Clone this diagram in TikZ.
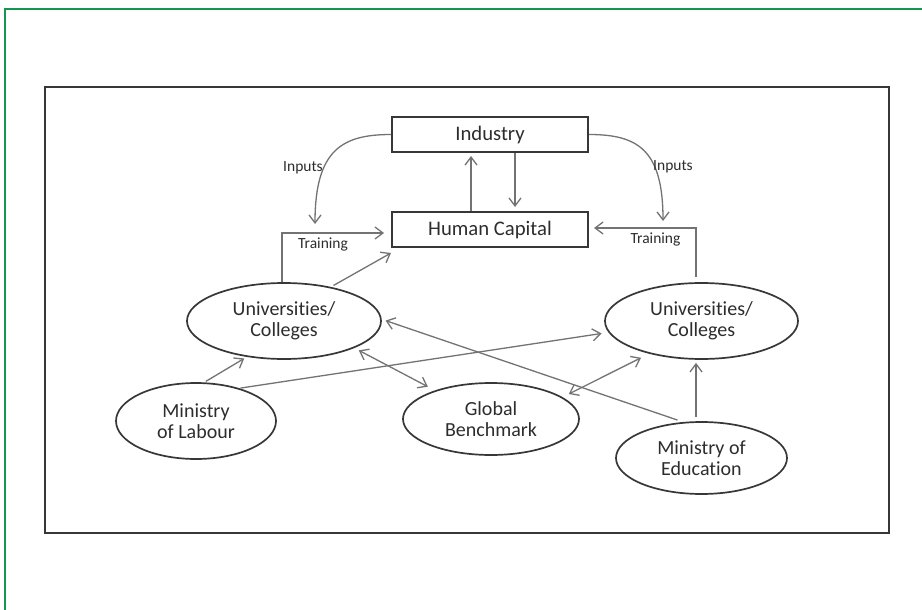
\documentclass[tikz,border=0pt]{standalone}
\usepackage{fontspec}
\setmainfont{Carlito}[Ligatures=NoCommon]
\usetikzlibrary{arrows.meta,shapes.geometric}
\definecolor{framegreen}{RGB}{20,150,80}
\definecolor{ink}{RGB}{55,55,55}
\definecolor{wire}{RGB}{115,115,115}
\definecolor{txt}{RGB}{45,45,45}
\begin{document}
\begin{tikzpicture}[x=1pt,y=-1pt,
  box/.style={draw=ink,line width=2pt,minimum width=196pt,minimum height=35pt,
    inner sep=0pt,text=txt,font=\fontsize{20.7}{21}\selectfont},
  oval/.style={draw=ink,ellipse,line width=1.7pt,inner sep=0pt,align=center,
    text=txt,font=\fontsize{20}{21}\selectfont},
  link/.style={draw=wire,line width=1.3pt,-{Straight Barb[length=8pt,width=12pt]}},
  both/.style={draw=wire,line width=1.3pt,
    {Straight Barb[length=8pt,width=12pt]}-{Straight Barb[length=8pt,width=12pt]}},
  lbl/.style={text=txt,font=\fontsize{15.5}{16}\selectfont,inner sep=0pt}]

\useasboundingbox (0,0) rectangle (922,610);
\fill[white] (0,0) rectangle (922,610);

% page frame and panel
\draw[framegreen,line width=2pt] (5,615) -- (5,9) -- (927,9);
\draw[ink,line width=2pt] (45,87) rectangle (889,533);

% boxes
\node[box] (ind) at (490,134.5) {Industry};
\node[box] (hc)  at (490,229.5) {Human Capital};

% ovals
\node[oval,minimum width=194pt,minimum height=76pt] (uL) at (284,321) {Universities/\\Colleges};
\node[oval,minimum width=193pt,minimum height=76pt] (uR) at (701.5,321) {Universities/\\Colleges};
\node[oval,minimum width=160pt,minimum height=76pt] (mL) at (196,421) {Ministry\\of Labour};
\node[oval,minimum width=176pt,minimum height=72pt] (gb) at (491,419) {Global\\Benchmark};
\node[oval,minimum width=171pt,minimum height=72pt] (mE) at (701.5,458) {Ministry of\\Education};

% inputs from industry
\coordinate (inL) at (315,224);
\coordinate (inR) at (663,221);
\draw[link] (ind.west) .. controls +(-49,0) and +(0,-74) .. (inL);
\draw[link] (ind.east) .. controls +(49,0) and +(0,-71) .. (inR);
\node[lbl] (inLt) at (303,168) {Inputs};
\node[lbl] (inRt) at (673,167) {Inputs};

% industry <-> human capital
\draw[link,shorten >=3pt] ([xshift=-19pt]hc.north) -- ([xshift=-19pt]ind.south);
\draw[link,shorten >=4pt] ([xshift=25pt]ind.south) -- ([xshift=25pt]hc.north);

% training
\draw[link,shorten >=7pt] ([xshift=-2pt]uL.north) |- ([yshift=-3.5pt]hc.west);
\draw[link,shorten >=5pt,shorten <=5pt] ([xshift=-5.5pt]uR.north) |- ([yshift=1.5pt]hc.east);
\node[lbl] (trL) at (323,244) {Training};
\node[lbl] (trR) at (655.5,239) {Training};

% remaining links
\draw[link,shorten <=3pt] (uL.36) -- ([yshift=-5pt]hc.south west);
\draw[link,shorten <=2pt,shorten >=3pt] (mL.78) -- (uL.224);
\draw[link,shorten <=1pt,shorten >=7pt] (mL.37) -- (uR.187);
\draw[both,shorten <=5pt,shorten >=8pt] (uL.-21) -- (gb.153);
\draw[both,shorten <=7pt,shorten >=9pt] (gb.17) -- (uR.212);
\draw[link,shorten <=6pt,shorten >=4pt] (mE.117) -- (uL.1);
\draw[link,shorten <=4pt,shorten >=3pt] ([xshift=-5.5pt]mE.north) -- ([xshift=-5.5pt]uR.south);
\end{tikzpicture}
\end{document}
